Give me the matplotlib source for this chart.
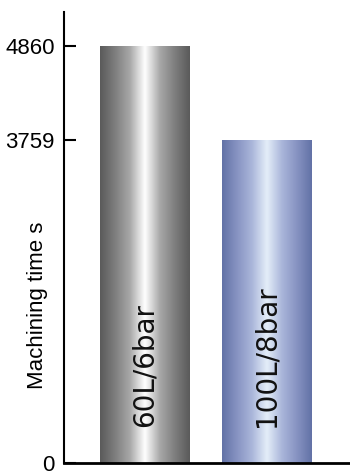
import numpy as np
import matplotlib
matplotlib.use("Agg")
import matplotlib.pyplot as plt
from matplotlib.colors import LinearSegmentedColormap

categories = ["60L/6bar", "100L/8bar"]
values = [4860, 3759]
yticks = [0, 3759, 4860]
ylabel = "Machining time s"

gray_stops = ["#5a5a5a", "#7e7e7e", "#a8a8a8", "#ffffff", "#a8a8a8", "#7e7e7e", "#5a5a5a"]
blue_stops = ["#6272a6", "#8793c2", "#aab6da", "#e4eef9", "#aab6da", "#8793c2", "#6272a6"]

W, H = 350, 472
plt.rcParams['font.family'] = ['Liberation Sans', 'DejaVu Sans']
fig = plt.figure(figsize=(W / 100, H / 100), dpi=100)
ax = fig.add_axes([64 / W, (H - 463) / H, 1 - 64 / W, (463 - 12) / H])

x = np.arange(len(categories))
width = 0.74
bars = ax.bar(x, values, width=width, color="none", edgecolor="none")

grad = np.linspace(0, 1, 256).reshape(1, -1)
for bar, stops in zip(bars, [gray_stops, blue_stops]):
    cmap = LinearSegmentedColormap.from_list("g", stops)
    x0, y0 = bar.get_x(), bar.get_y()
    w, h = bar.get_width(), bar.get_height()
    im = ax.imshow(grad, cmap=cmap, aspect="auto", extent=[x0, x0 + w, y0, y0 + h],
                   interpolation="bicubic", zorder=2)
    im.set_clip_path(bar)

for xi, cat in zip(x, categories):
    ax.text(xi, 420, cat, rotation=90, ha="center", va="bottom",
            fontsize=20, family="DejaVu Sans", color="#111111", zorder=3)

ax.set_xlim(-0.667, 1.687)
ax.set_ylim(0, 5256)
ax.set_yticks(yticks)
ax.set_yticklabels([str(v) for v in yticks], fontsize=16, family="Liberation Sans")
ax.tick_params(axis="y", direction="in", length=8.5, width=1.5, pad=6.5, color="black")
ax.set_xticks([])

for s in ["top", "right"]:
    ax.spines[s].set_visible(False)
ax.spines["left"].set_linewidth(1.5)
ax.spines["bottom"].set_linewidth(2)

fig.text(38 / W, (H - 305) / H, ylabel, rotation=90, ha="center", va="center",
         fontsize=16, family="Liberation Sans")

fig.savefig("out.png", dpi=100)
